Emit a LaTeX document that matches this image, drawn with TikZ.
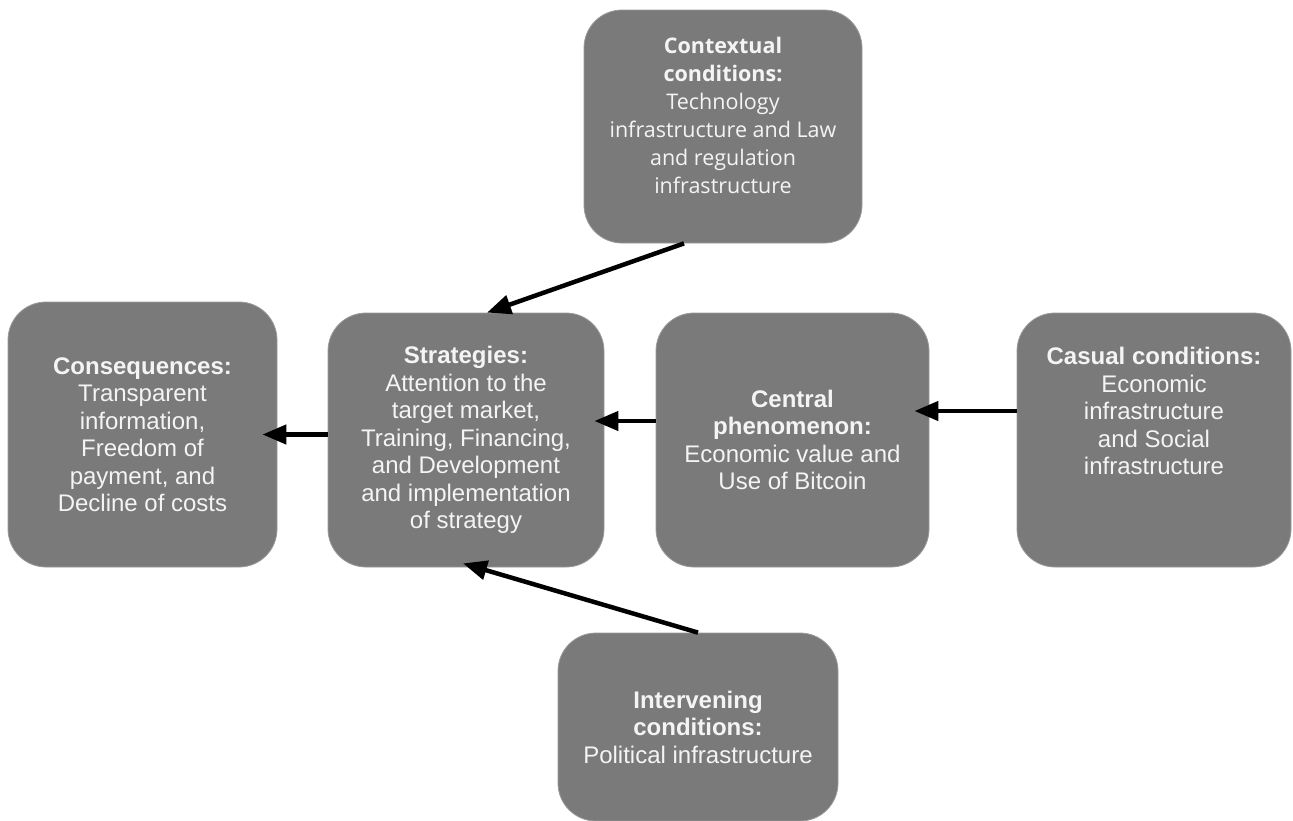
\documentclass[tikz,border=0pt]{standalone}
\usepackage{fontspec}
\setmainfont{Liberation Sans}
\newfontfamily\ctxfont{Open Sans}
\usepackage{tikz}
\usetikzlibrary{positioning,calc,arrows.meta}
\definecolor{boxgray}{HTML}{7A7A7A}
\definecolor{boxedge}{HTML}{9A9A9A}
\definecolor{boxtext}{HTML}{F4F4F4}

\begin{document}
\begin{tikzpicture}[
    x=1pt, y=-1pt,
    box/.style={rectangle, rounded corners=38pt, fill=boxgray, draw=boxedge, line width=0.8pt,
        inner sep=0pt, text=boxtext, align=center, font=\fontsize{24}{27.5}\selectfont},
    txt/.style={inner sep=0pt, text=boxtext, align=center, font=\fontsize{24}{27.5}\selectfont},
    arr/.style={line width=4.5pt, -{Triangle[length=24pt,width=19pt]}}
]
    \useasboundingbox (0,0) rectangle (1293,820);

    % the six boxes
    \node[box, minimum width=278pt, minimum height=233pt] (context) at (723,126.5) {};
    \node[txt, font=\ctxfont\fontsize{21.5}{28}\selectfont] (contexttext) at (723,115)
        {\textbf{Contextual}\\\textbf{conditions:}\\Technology\\infrastructure and Law\\and regulation\\infrastructure};

    \node[box, minimum width=269pt, minimum height=265pt] (conseq) at (142.5,434.5)
        {\textbf{Consequences:}\\Transparent\\information,\\Freedom of\\payment, and\\Decline of costs};

    \node[box, minimum width=276pt, minimum height=254pt] (strat) at (466,440)
        {\textbf{Strategies:}\\Attention to the\\target market,\\Training, Financing,\\and Development\\and implementation\\of strategy};

    \node[box, minimum width=273pt, minimum height=254pt] (central) at (792.5,440)
        {\textbf{Central}\\\textbf{phenomenon:}\\Economic value and\\Use of Bitcoin};

    \node[box, minimum width=274pt, minimum height=254pt] (casual) at (1154,440) {};
    \node[txt] (casualtext) at (1154,411)
        {\textbf{Casual conditions:}\\Economic\\infrastructure\\and Social\\infrastructure};

    \node[box, minimum width=280pt, minimum height=188pt] (interv) at (698,727)
        {\textbf{Intervening}\\\textbf{conditions:}\\Political infrastructure};

    % arrows into strategies and out to consequences
    \draw[arr] ([xshift=-39pt]context.south) -- ([xshift=21pt]strat.north);
    \draw[arr] (strat.west |- conseq.east) -- ([xshift=-15pt]conseq.east);
    \draw[arr] ([yshift=19pt]central.west) -- ([xshift=-10pt,yshift=19pt]strat.east);
    \draw[arr] ([yshift=29pt]casual.west) -- ([xshift=-15pt,yshift=29pt]central.east);
    \draw[arr] (interv.north) -- ([xshift=-3pt,yshift=4pt]strat.south);

\end{tikzpicture}
\end{document}
